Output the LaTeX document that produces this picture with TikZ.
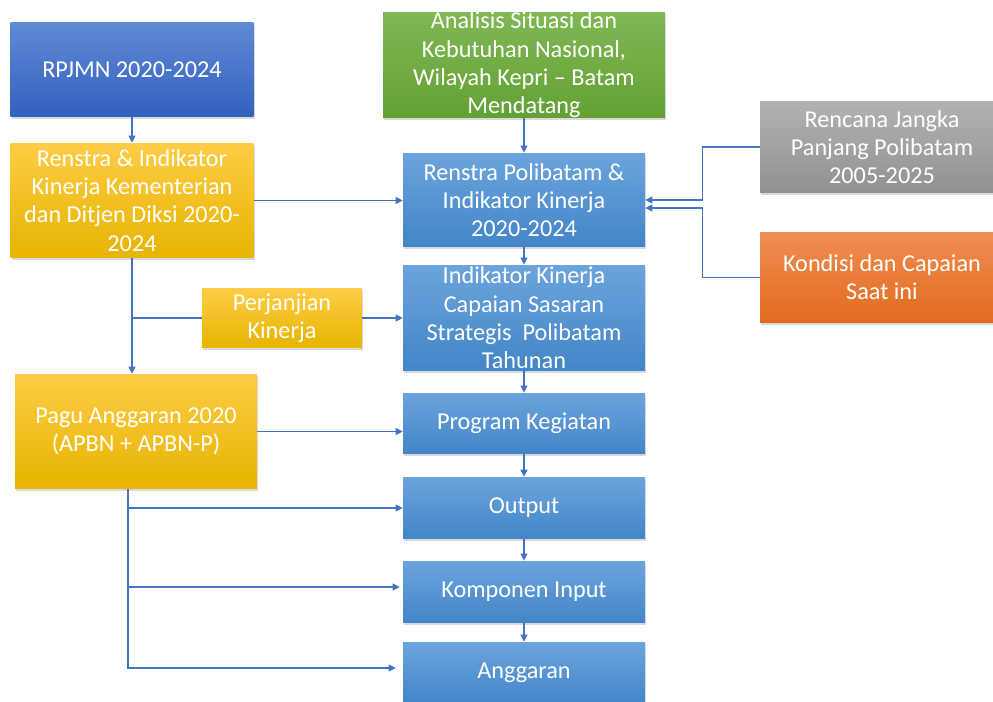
\documentclass[tikz,border=0pt]{standalone}
\usepackage{fontspec}
\setmainfont{Carlito}
\usetikzlibrary{arrows.meta,shadows}

\definecolor{darkbluetop}{RGB}{96,137,214}
\definecolor{darkbluemid}{RGB}{68,114,206}
\definecolor{darkbluebot}{RGB}{50,96,190}
\definecolor{greentop}{RGB}{128,184,84}
\definecolor{greenmid}{RGB}{112,173,71}
\definecolor{greenbot}{RGB}{98,160,52}
\definecolor{yellowtop}{RGB}{255,204,70}
\definecolor{yellowmid}{RGB}{255,192,0}
\definecolor{yellowbot}{RGB}{230,180,0}
\definecolor{lightbluetop}{RGB}{108,164,220}
\definecolor{lightbluemid}{RGB}{86,152,216}
\definecolor{lightbluebot}{RGB}{66,133,199}
\definecolor{graytop}{RGB}{178,178,178}
\definecolor{graymid}{RGB}{165,165,165}
\definecolor{graybot}{RGB}{145,145,145}
\definecolor{orangetop}{RGB}{240,142,82}
\definecolor{orangemid}{RGB}{237,125,49}
\definecolor{orangebot}{RGB}{226,106,30}
\definecolor{lineblue}{RGB}{68,114,196}

\begin{document}
\begin{tikzpicture}[x=0.02cm, y=-0.02cm,
    font=\fontsize{13.8}{16.1}\selectfont,
    box/.style={rectangle, align=center, text=white, inner sep=0pt,
        drop shadow={shadow xshift=0.6pt, shadow yshift=-1.2pt, opacity=0.3}},
    darkbluebox/.style={box, top color=darkbluetop, middle color=darkbluemid, bottom color=darkbluebot},
    greenbox/.style={box, top color=greentop, middle color=greenmid, bottom color=greenbot},
    yellowbox/.style={box, top color=yellowtop, middle color=yellowmid, bottom color=yellowbot},
    lightbluebox/.style={box, top color=lightbluetop, middle color=lightbluemid, bottom color=lightbluebot},
    graybox/.style={box, top color=graytop, middle color=graymid, bottom color=graybot},
    orangebox/.style={box, top color=orangetop, middle color=orangemid, bottom color=orangebot},
    conn/.style={draw=lineblue, line width=0.6pt, -{Triangle[length=1.4mm, width=1.4mm]}},
    plain/.style={draw=lineblue, line width=0.6pt}]

\useasboundingbox (0,0) rectangle (993,702);

% Kolom kiri
\node[darkbluebox, minimum width=4.86cm, minimum height=1.88cm] (rpjmn) at (132,69.5) {RPJMN 2020-2024};
\node[yellowbox, minimum width=4.86cm, minimum height=2.30cm] (renstrak) at (132,200.5)
    {Renstra \& Indikator\\Kinerja Kementerian\\dan Ditjen Diksi 2020-\\2024};
\node[yellowbox, minimum width=3.2cm, minimum height=1.2cm] (perjanjian) at (282,318) {Perjanjian\\Kinerja};
\node[yellowbox, minimum width=4.84cm, minimum height=2.30cm] (pagu) at (136,431.5)
    {Pagu Anggaran 2020\\(APBN + APBN-P)};

% Kolom tengah
\node[greenbox, minimum width=5.64cm, minimum height=2.12cm] (analisis) at (524,65)
    {Analisis Situasi dan\\Kebutuhan Nasional,\\Wilayah Kepri -- Batam\\Mendatang};
\node[lightbluebox, minimum width=4.84cm, minimum height=1.88cm] (renstrap) at (524,200)
    {Renstra Polibatam \&\\Indikator Kinerja\\2020-2024};
\node[lightbluebox, minimum width=4.84cm, minimum height=2.12cm] (indikator) at (524,318)
    {Indikator Kinerja\\Capaian Sasaran\\Strategis~ Polibatam\\Tahunan};
\node[lightbluebox, minimum width=4.84cm, minimum height=1.22cm] (program) at (524,423.5) {Program Kegiatan};
\node[lightbluebox, minimum width=4.84cm, minimum height=1.24cm] (output) at (524,508) {Output};
\node[lightbluebox, minimum width=4.84cm, minimum height=1.24cm] (komponen) at (524,592) {Komponen Input};
\node[lightbluebox, minimum width=4.84cm, minimum height=1.24cm] (anggaran) at (524,673) {Anggaran};

% Kolom kanan
\node[graybox, minimum width=4.88cm, minimum height=1.84cm] (rencana) at (882,147)
    {Rencana Jangka\\Panjang Polibatam\\2005-2025};
\node[orangebox, minimum width=4.88cm, minimum height=1.82cm] (kondisi) at (882,277.5)
    {Kondisi dan Capaian\\Saat ini};

% Panah
\draw[conn] (rpjmn) -- (renstrak);
\draw[conn] (analisis) -- (renstrap);
\draw[conn] (renstrak.east) -- (renstrak.east -| renstrap.west);
\draw[conn] (rencana.west) -- ++(-57,0) |- (renstrap.east);
\draw[conn] (kondisi.west) -- ++(-57,0) |- ([yshift=-0.16cm]renstrap.east);
\draw[conn] (renstrap) -- (indikator);
\draw[conn] (indikator) -- (program);
\draw[conn] (program) -- (output);
\draw[conn] (output) -- (komponen);
\draw[conn] (komponen) -- (anggaran);

\draw[conn] (renstrak.south) -- (renstrak.south |- pagu.north);
\draw[plain] (renstrak.south |- perjanjian.west) -- (perjanjian.west);
\draw[conn] (perjanjian.east) -- (perjanjian.east -| indikator.west);
\draw[conn] (pagu.east) -- (pagu.east -| program.west);

\coordinate (pagubawah) at ([xshift=-0.16cm]pagu.south);
\draw[conn] (pagubawah) |- (output.west);
\draw[conn, shorten >=0.06cm] (pagubawah) |- ([yshift=0.1cm]komponen.west);
\draw[conn, shorten >=0.14cm] (pagubawah) |- ([yshift=0.1cm]anggaran.west);
\end{tikzpicture}
\end{document}
